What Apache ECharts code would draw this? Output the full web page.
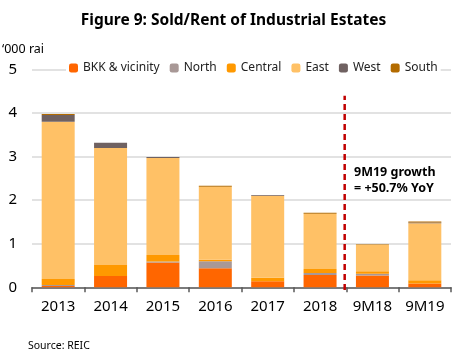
<!DOCTYPE html>
<html><head><meta charset="utf-8">
<script src="https://cdn.jsdelivr.net/npm/echarts@6/dist/echarts.min.js"></script>
<style>html,body{margin:0;padding:0;background:#fff}#c{width:467px;height:361px}</style>
</head><body><div id="c"></div>
<script>
const categories = ['2013','2014','2015','2016','2017','2018','9M18','9M19'];
const bkk     = [0.03, 0.26, 0.57, 0.44, 0.14, 0.28, 0.27, 0.09];
const north   = [0.02, 0.00, 0.02, 0.16, 0.00, 0.05, 0.04, 0.00];
const central = [0.14, 0.25, 0.15, 0.03, 0.08, 0.09, 0.06, 0.07];
const east    = [3.61, 2.69, 2.23, 1.68, 1.88, 1.27, 0.61, 1.31];
const west    = [0.16, 0.12, 0.02, 0.00, 0.02, 0.00, 0.00, 0.02];
const south   = [0.02, 0.00, 0.00, 0.02, 0.00, 0.02, 0.01, 0.02];
const yTicks = [0, 1, 2, 3, 4, 5];
const dividerPos = 5.97;
const dividerRange = [-0.06, 4.4];
const FONT = 'Noto Sans';

const names = ['BKK & vicinity','North','Central','East','West','South'];
const colors = ['#FF6600','#A89896','#FF9900','#FFC166','#6F6161','#B36B00'];
const datas = [bkk, north, central, east, west, south];

const chart = echarts.init(document.getElementById('c'), null, {renderer:'canvas'});
const series = names.map((n,i)=>({
  name:n, type:'bar', stack:'total', data:datas[i], barWidth:33,
  itemStyle:{color:colors[i]}, xAxisIndex:0, yAxisIndex:0
}));
const baseOption = {
  animation:false,
  backgroundColor:'#fff',
  textStyle:{fontFamily:FONT},
  title:{text:'Figure 9: Sold/Rent of Industrial Estates', left:'center', top:8,
    textStyle:{fontFamily:FONT, fontWeight:'bold', fontSize:15.5, color:'#000'}},
  legend:{data:names, left:66, top:62, itemWidth:9, itemHeight:9, itemGap:10,
    backgroundColor:'#fff', padding:[0,3,0,3],
    textStyle:{fontFamily:FONT, fontSize:12, color:'#222'}},
  grid:{left:32, right:16, top:69.6, bottom:73.7, containLabel:false},
  xAxis:[{type:'category', data:categories,
    axisLine:{lineStyle:{color:'#595959', width:1.5}},
    axisTick:{show:true, length:5, lineStyle:{color:'#595959', width:1.5}},
    axisLabel:{fontFamily:FONT, fontSize:15, color:'#000', margin:12}},
    {type:'value', min:0, max:8, show:false}],
  yAxis:{type:'value', min:yTicks[0], max:yTicks[yTicks.length-1], interval:1,
    axisLine:{show:false}, axisTick:{show:false},
    axisLabel:{fontFamily:FONT, fontSize:15, color:'#000', margin:15},
    splitLine:{lineStyle:{color:'#D9D9D9', width:1.5}}},
  series:series
};
chart.setOption(baseOption);
const p1 = chart.convertToPixel({xAxisIndex:1, yAxisIndex:0}, [dividerPos, dividerRange[0]]);
const p2 = chart.convertToPixel({xAxisIndex:1, yAxisIndex:0}, [dividerPos, dividerRange[1]]);
chart.setOption({
  graphic:[
    {type:'line', shape:{x1:p1[0], y1:p1[1], x2:p2[0], y2:p2[1]}, z:10,
      style:{stroke:'#C00000', lineWidth:2.5, lineDash:[6,4]}},
    {type:'text', left:2, top:43, style:{text:'\u2018000 rai', fontFamily:FONT, fontSize:12.5, fill:'#000'}},
    {type:'text', left:354, top:165, style:{text:'9M19 growth\n= +50.7% YoY', fontFamily:FONT, fontWeight:'bold', fontSize:12.5, lineHeight:15.5, fill:'#000'}},
    {type:'text', left:28, top:341, style:{text:'Source: REIC', fontFamily:FONT, fontSize:10.5, fill:'#000'}}
  ]
});
</script></body></html>
